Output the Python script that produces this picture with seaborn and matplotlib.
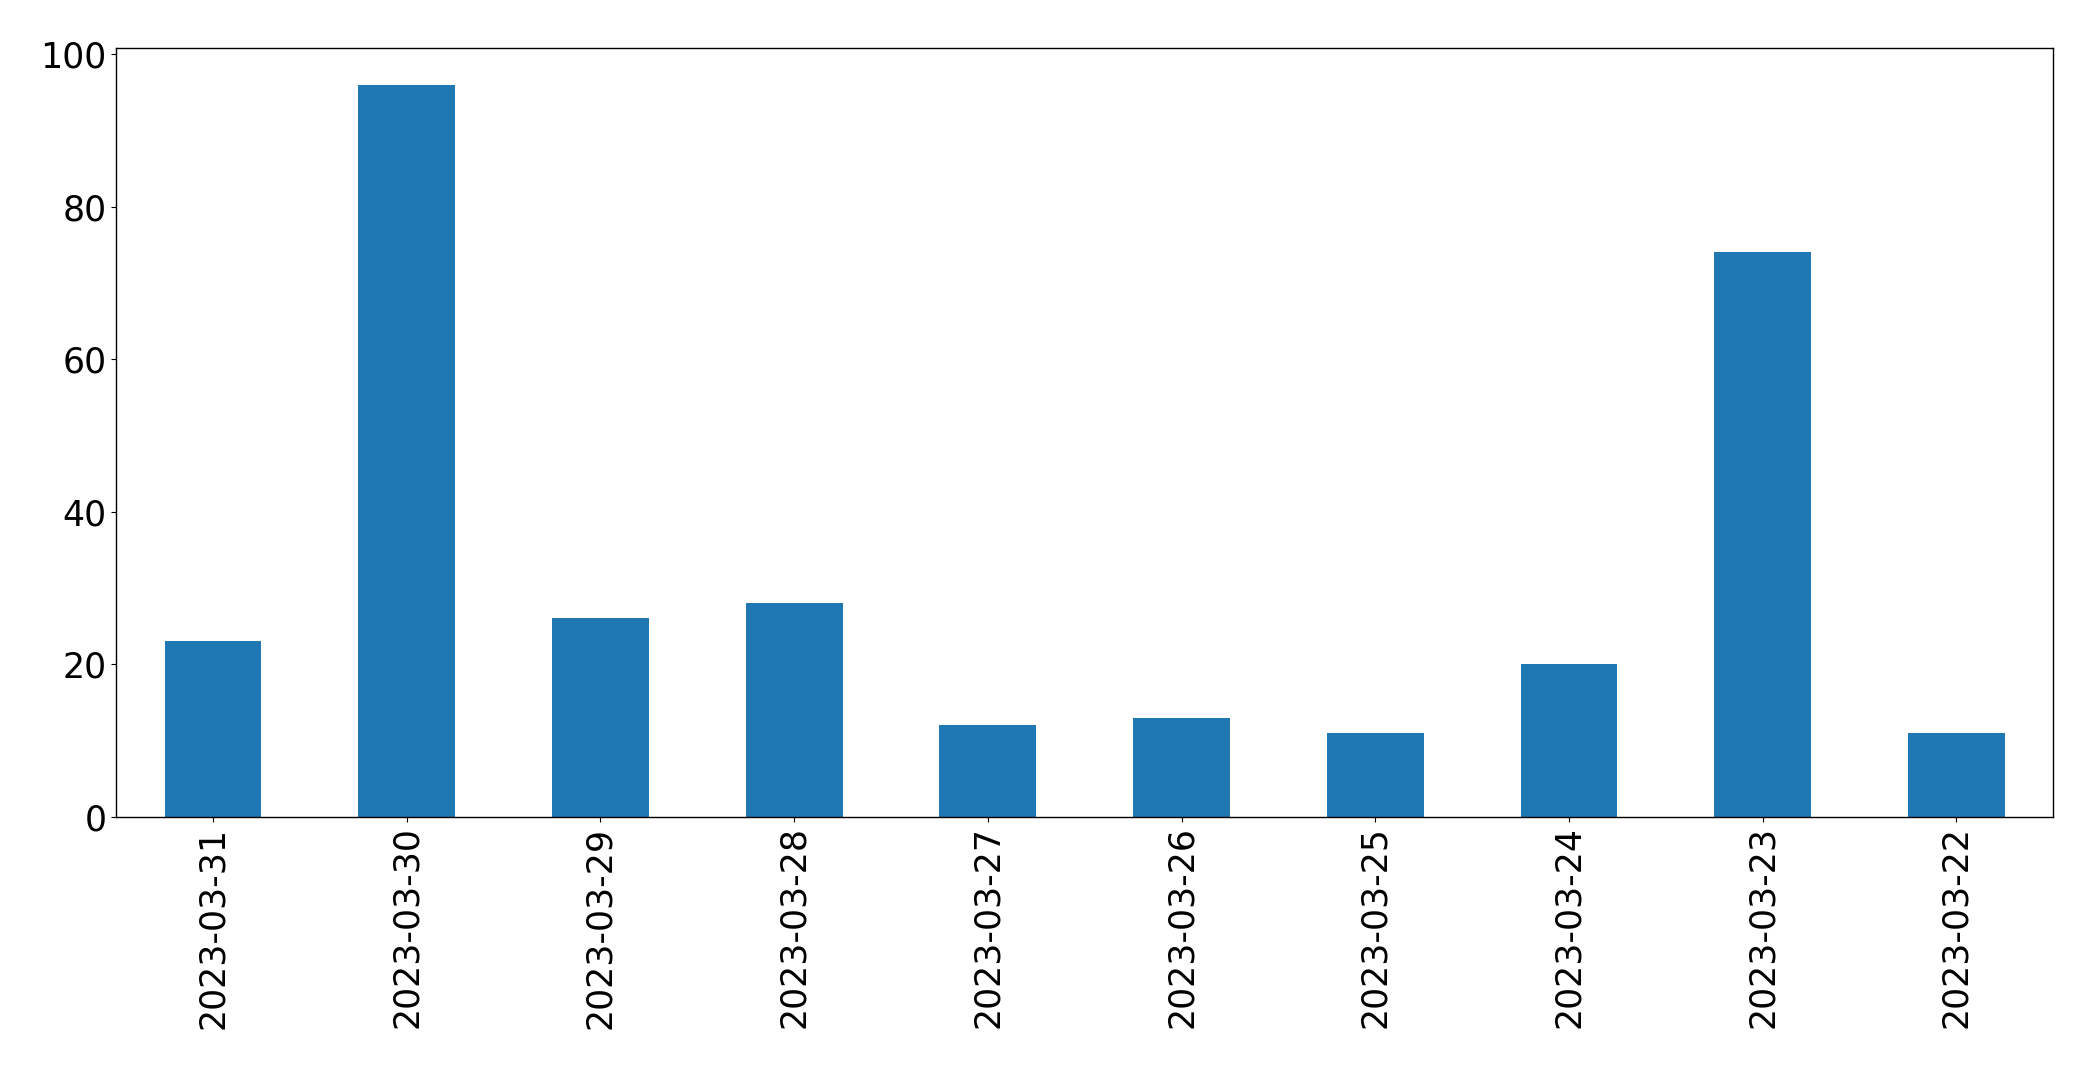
import matplotlib
matplotlib.use("Agg")
import matplotlib.pyplot as plt
import pandas as pd
import seaborn as sns

dates = ["2023-03-31", "2023-03-30", "2023-03-29", "2023-03-28", "2023-03-27",
         "2023-03-26", "2023-03-25", "2023-03-24", "2023-03-23", "2023-03-22"]
counts = [23, 96, 26, 28, 12, 13, 11, 20, 74, 11]

plt.rc('font', size=25)

df = pd.DataFrame({'date': dates, 'count': counts})

fig, ax = plt.subplots(figsize=(20.93, 10.69), dpi=100)
fig.subplots_adjust(left=0.0555, right=0.981, bottom=0.236, top=0.955)
sns.barplot(data=df, x='date', y='count', order=dates, color='#1f77b4',
            saturation=1, width=0.5, linewidth=0, ax=ax)
ax.set_xlim(-0.5, len(dates) - 0.5)
ax.set_ylim(0, max(counts) * 1.05)
ax.set_xlabel('')
ax.set_ylabel('')
for s in ax.spines.values():
    s.set_color('black')
    s.set_linewidth(1.0)
ax.tick_params(axis='x', rotation=90, color='black')
ax.tick_params(axis='y', color='black')
fig.savefig('out.png', dpi=100)
